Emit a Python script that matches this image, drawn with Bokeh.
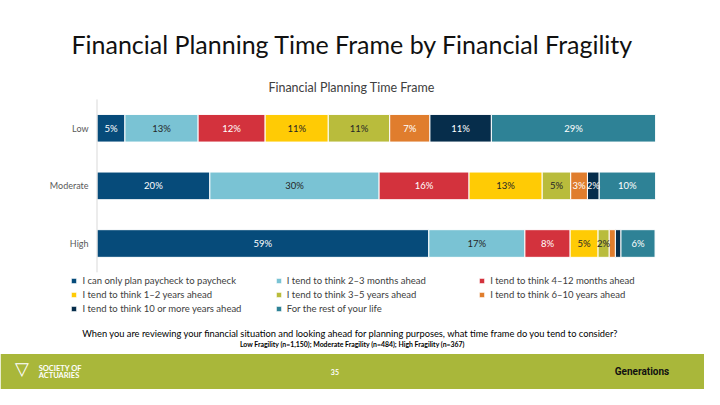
from bokeh.plotting import figure
from bokeh.models import (ColumnDataSource, Range1d, Label, Legend, LegendItem, BoxAnnotation)
from bokeh.core.properties import value
from bokeh.embed import file_html
from bokeh.resources import INLINE

# ---------------- data ----------------
categories = ["High", "Moderate", "Low"]  # bottom to top
series_names = [
    "I can only plan paycheck to paycheck",
    "I tend to think 2\u20133 months ahead",
    "I tend to think 4\u201312 months ahead",
    "I tend to think 1\u20132 years ahead",
    "I tend to think 3\u20135 years ahead",
    "I tend to think 6\u201310 years ahead",
    "I tend to think 10 or more years ahead",
    "For the rest of your life",
]
# shares (%) per category, order: High, Moderate, Low
paycheck    = [59.4, 20.2, 5.0]
months_2_3  = [17.2, 30.3, 13.1]
months_4_12 = [8.1, 16.1, 12.0]
years_1_2   = [5.0, 13.1, 11.3]
years_3_5   = [2.0, 5.1, 11.0]
years_6_10  = [1.1, 3.0, 7.2]
years_10p   = [1.0, 2.1, 11.0]
rest_life   = [6.1, 10.1, 29.4]

series_values = [paycheck, months_2_3, months_4_12, years_1_2,
                 years_3_5, years_6_10, years_10p, rest_life]
colors = ["#064B7A", "#7AC3D4", "#D3323D", "#FFCB05",
          "#B9BC3C", "#E07D2D", "#062D4B", "#2E8296"]
label_colors = ["white", "#262626", "white", "#262626",
                "#262626", "white", "white", "white"]

title_text = "Financial Planning Time Frame by Financial Fragility"
subtitle_text = "Financial Planning Time Frame"
question_text = ("When you are reviewing your financial situation and looking ahead for "
                 "planning purposes, what time frame do you tend to consider?")
note_text = "Low Fragility (n=1,150); Moderate Fragility (n=484); High Fragility (n=367)"

FONT = "Lato"
W, H = 704, 389
SX, SY = W / 720.0, H / 405.0

def fx(x):          # reference x -> figure screen x
    return x * SX

def fy(y):          # reference y (from top) -> figure screen y (from bottom)
    return H - y * SY

PX_PER_PCT = (670 - 98.7) * SX / 100.0
PX_PER_ROW = 60.0 * SY

# ---------------- chart ----------------
keys = ["s%d" % i for i in range(len(series_names))]
rows = list(range(len(categories)))
data = {"row": rows, "cat": categories}
for k, v in zip(keys, series_values):
    data[k] = v
source = ColumnDataSource(data)

x_start = -fx(98.7) / PX_PER_PCT
x_end = x_start + W / PX_PER_PCT
y_end = 2 + (133 * SY) / PX_PER_ROW
y_start = y_end - H / PX_PER_ROW

p = figure(width=W, height=H, x_range=Range1d(x_start, x_end),
           y_range=Range1d(y_start, y_end), output_backend="svg",
           toolbar_location=None, min_border=0)
p.outline_line_color = None
p.axis.visible = False
p.grid.visible = False

# footer band
p.add_layout(BoxAnnotation(top=y_end - (368 * SY) / PX_PER_ROW, fill_color="#A9B73A",
                           fill_alpha=1, line_color=None, level="underlay"))

renderers = p.hbar_stack(keys, y="row", height=0.48, color=colors,
                         line_color="white", line_width=1, source=source)

# category axis line and labels
p.segment(x0=[0], y0=[-0.5], x1=[0], y1=[len(categories) - 0.5],
          line_color="#D9D9D9", line_width=1)
p.text(x=0, y="row", text="cat", source=source, x_offset=-8.5,
       text_align="right", text_baseline="middle", text_color="#595959",
       text_font=value(FONT), text_font_size="9px")

# value labels
lx, ly, lt, lc = [], [], [], []
for ci in rows:
    left = 0.0
    for si, vals in enumerate(series_values):
        v = vals[ci]
        if v >= 1.5:
            lx.append(left + v / 2.0)
            ly.append(ci)
            lt.append("%d%%" % round(v))
            lc.append(label_colors[si])
        left += v
lsrc = ColumnDataSource(dict(x=lx, y=ly, t=lt, c=lc))
p.text(x="x", y="y", text="t", text_color="c", source=lsrc,
       text_align="center", text_baseline="middle",
       text_font=value(FONT), text_font_size="9.5px")

# legends: three columns
cols = [[0, 3, 6], [1, 4, 7], [2, 5]]
col_x = [72, 281, 489]
top = 292 * SY - 6
for cidx, idxs in enumerate(cols):
    items = [LegendItem(label=series_names[i], renderers=[renderers[i]]) for i in idxs]
    n = len(idxs)
    bottom = top + n * 12 + (n - 1) * 2
    lg = Legend(items=items, location=(fx(col_x[cidx]), H - bottom),
                orientation="vertical", padding=0, margin=0, spacing=2,
                glyph_width=7, glyph_height=7, label_height=12,
                label_standoff=5, border_line_color=None,
                background_fill_alpha=0, label_text_font=FONT,
                label_text_font_size="9.5px", label_text_color="#404040")
    p.add_layout(lg, "center")

def add_text(txt, x, y, size, color, style="normal", font=FONT, align="center"):
    p.add_layout(Label(x=fx(x), y=fy(y), x_units="screen", y_units="screen", text=txt,
                       text_font=font, text_font_size=size, text_color=color,
                       text_font_style=style, text_align=align,
                       text_baseline="middle"))

add_text(title_text, 360, 45, "25px", "#111111")
add_text(subtitle_text, 359, 91, "12.5px", "#404040")
add_text(question_text, 358, 347, "9.3px", "#000000")
add_text(note_text, 360, 358, "6.9px", "#000000", style="bold")

# footer texts
add_text("\u25BD", 22, 383, "18px", "white", style="bold", font="DejaVu Sans")
add_text("SOCIETY OF", 39, 383, "7.5px", "white", style="bold", align="left")
add_text("ACTUARIES", 39, 390, "7.5px", "white", style="bold", align="left")
add_text("35", 342, 387, "7px", "white", style="bold")
add_text("Generations", 656, 386, "10px", "#111111", style="bold", font="Roboto")

open("out.html", "w").write(file_html(p, INLINE))
